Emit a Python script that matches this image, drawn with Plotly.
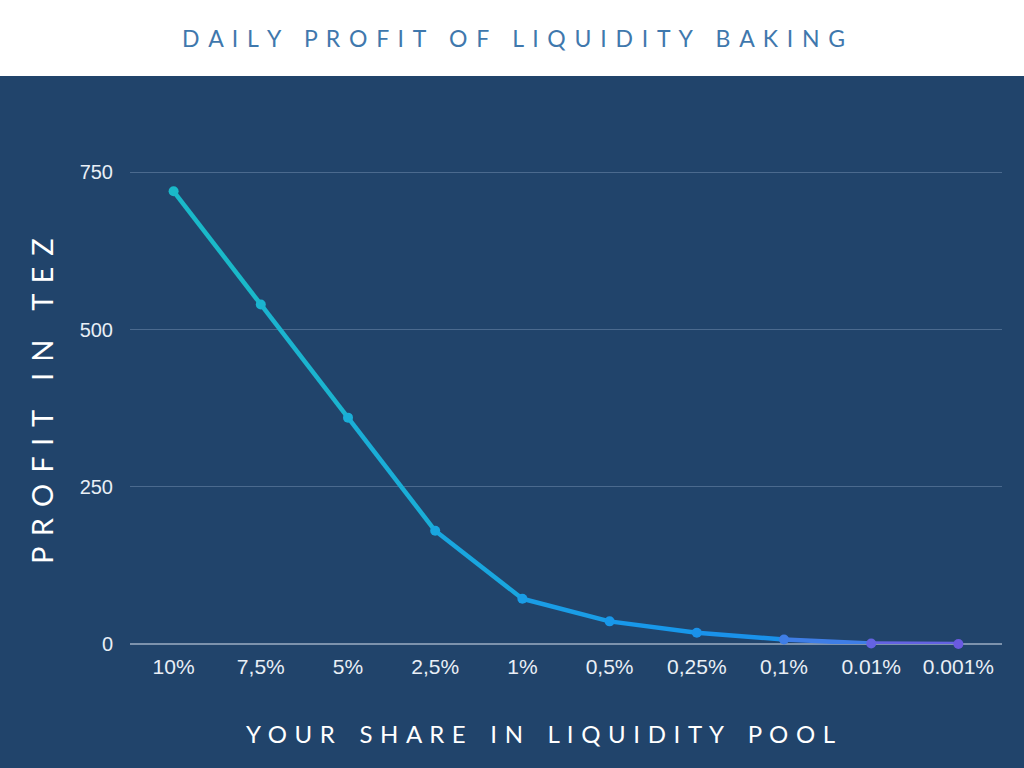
import plotly.graph_objects as go

# share of the liquidity pool and daily profit (tez)
shares = ["10%", "7,5%", "5%", "2,5%", "1%", "0,5%", "0,25%", "0,1%", "0.01%", "0.001%"]
profit = [720, 540, 360, 180, 72, 36, 18, 7.2, 0.72, 0.072]
y_ticks = [0, 250, 500, 750]

# colour of the line at each point (cyan -> blue -> violet)
point_colors = ["#1ab9c9", "#1bb4cf", "#1aaed7", "#19a6df", "#1a9de6",
                "#1898ea", "#1a92ea", "#3f7ee6", "#6463e2", "#6a5ae0"]

BG = "#21446b"
TOP, BOTTOM, LEFT, RIGHT = 141, 124, 130, 22
PLOT_H = 768 - TOP - BOTTOM
PLOT_W = 1024 - LEFT - RIGHT


def spaced(text, gap):
    # fake letter spacing, plotly has no letter-spacing option
    words = text.split(" ")
    return ("\u00a0\u00a0\u00a0\u00a0").join(gap.join(w) for w in words)


def px_x(x):
    return (x - LEFT) / PLOT_W


def px_y(y):
    return (768 - BOTTOM - y) / PLOT_H


fig = go.Figure()

# one trace per segment so the colour can shift along the line
for i in range(len(shares) - 1):
    fig.add_trace(
        go.Scatter(
            x=shares[i:i + 2],
            y=profit[i:i + 2],
            mode="lines",
            line=dict(color=point_colors[i], width=4.5),
            hoverinfo="skip",
            showlegend=False,
            cliponaxis=False,
        )
    )

fig.add_trace(
    go.Scatter(
        x=shares,
        y=profit,
        mode="markers",
        marker=dict(color=point_colors, size=10),
        showlegend=False,
        cliponaxis=False,
    )
)

# white band behind the title
fig.add_shape(
    type="rect", xref="paper", yref="paper",
    x0=px_x(-10), x1=px_x(1034), y0=px_y(76), y1=px_y(-10),
    fillcolor="white", line_width=0, layer="below",
)

fig.add_annotation(
    text=spaced("DAILY PROFIT OF LIQUIDITY BAKING", " \u2009"),
    xref="paper", yref="paper", x=px_x(513), y=px_y(38),
    showarrow=False, font=dict(family="Lato", size=23, color="#3f78ad"),
    xanchor="center", yanchor="middle",
)
fig.add_annotation(
    text=spaced("YOUR SHARE IN LIQUIDITY POOL", " \u200a"),
    xref="paper", yref="paper", x=px_x(540), y=px_y(733),
    showarrow=False, font=dict(family="Lato", size=24, color="#ffffff"),
    xanchor="center", yanchor="middle",
)
fig.add_annotation(
    text=spaced("PROFIT IN TEZ", " \u2009"),
    xref="paper", yref="paper", x=px_x(42), y=px_y(401),
    showarrow=False, textangle=-90,
    font=dict(family="Lato", size=29, color="#ffffff"),
    xanchor="center", yanchor="middle",
)

fig.update_layout(
    width=1024,
    height=768,
    margin=dict(l=LEFT, r=RIGHT, t=TOP, b=BOTTOM),
    paper_bgcolor=BG,
    plot_bgcolor=BG,
    font=dict(family="Liberation Sans, Arial", size=20, color="#e9eff6"),
    xaxis=dict(
        type="category",
        range=[-0.5, len(shares) - 0.5],
        showgrid=False,
        zeroline=False,
        showline=False,
        ticks="",
        ticklabelstandoff=8,
        tickfont=dict(size=21, color="#e9eff6"),
    ),
    yaxis=dict(
        range=[0, 800],
        tickvals=y_ticks,
        ticktext=[str(v) for v in y_ticks],
        showgrid=True,
        gridcolor="#4b6a8e",
        gridwidth=1,
        zeroline=True,
        zerolinecolor="#7d93ad",
        zerolinewidth=2,
        showline=False,
        ticks="",
        ticklabelstandoff=16,
        tickfont=dict(size=20, color="#e9eff6"),
    ),
)

fig.write_html(
    "out.html",
    config={"displayModeBar": False},
    post_script="document.body.style.margin='0';",
)
